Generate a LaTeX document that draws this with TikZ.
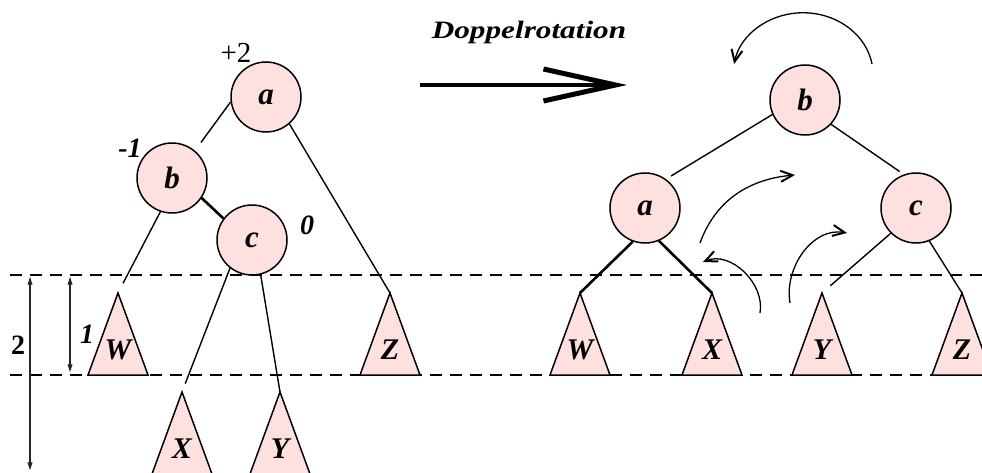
\documentclass[tikz,border=0pt]{standalone}
\usepackage{fontspec}
\setmainfont{Liberation Serif}
\usetikzlibrary{arrows.meta,positioning}
\definecolor{avlpink}{RGB}{255,224,224}

% subtree triangle: name, apex, label
\newcommand{\subtree}[3]{%
  \coordinate (#1) at #2;
  \filldraw[sub] (#1) -- ++(-30,-82) -- ++(60,0) -- cycle;
  \node[sublab] (#1lab) at ([yshift=-57pt]#1) {#3};
}

\begin{document}
\begin{tikzpicture}[x=1pt, y=1pt,
    avl/.style={circle, draw=black, line width=1.5pt, fill=avlpink,
                minimum size=70pt, inner sep=0pt,
                font=\fontsize{31}{33}\selectfont\bfseries\itshape},
    sub/.style={draw=black, line width=1.5pt, fill=avlpink, line join=miter},
    sublab/.style={inner sep=0pt, font=\fontsize{30}{32}\selectfont\bfseries\itshape},
    bal/.style={inner sep=0pt, font=\fontsize{28}{30}\selectfont\bfseries\itshape},
    edge/.style={line width=1.4pt},
    heavy/.style={line width=2.6pt},
    lev/.style={line width=1.2pt, dash pattern=on 12pt off 8pt},
    rot/.style={line width=1.3pt, -{Straight Barb[length=12pt,width=11pt,line width=2pt]}},
    hgt/.style={line width=1.1pt, black!85,
                {Straight Barb[length=6pt,width=4pt]}-{Straight Barb[length=6pt,width=4pt]}}]
  \useasboundingbox (0,0) rectangle (982,472);

  % level lines
  \coordinate (levTopL) at (10,197);
  \coordinate (levTopR) at (982,197);
  \coordinate (levBotL) at (10,97);
  \coordinate (levBotR) at (982,97);
  \draw[lev] (levTopL) -- (levTopR);
  \draw[lev] (levBotL) -- (levBotR);

  % height markers
  \coordinate (h2top) at (30,195);
  \coordinate (h2bot) at (30,2);
  \coordinate (h1top) at (70,195);
  \coordinate (h1bot) at (70,100);
  \draw[hgt] (h2top) -- (h2bot);
  \draw[hgt] (h1top) -- (h1bot);
  \node[inner sep=0pt, font=\fontsize{28}{30}\selectfont\bfseries] (h2lab) at (18,127) {2};
  \node[bal] (h1lab) at (87,138) {1};

  % tree before rotation
  \node[avl] (a) at (266,375) {a};
  \node[avl] (b) at (172,294) {b};
  \node[avl] (c) at (252,232) {c};
  \node[inner sep=0pt, font=\fontsize{29}{30}\selectfont] (balA) at (236,419) {+2};
  \node[bal] (balB) at (130,324) {-1};
  \node[bal] (balC) at (307,247) {0};

  \subtree{lW}{(118,179)}{W}
  \subtree{lZ}{(390,179)}{Z}
  \subtree{lX}{(182,80)}{X}
  \subtree{lY}{(280,80)}{Y}

  \draw[edge, shorten >=10pt] (a.188) -- (b.50);
  \draw[heavy] (b.-34) -- (c.143);
  \draw[edge] (a.-49) -- (lZ);
  \draw[edge, shorten >=11pt] (b.-109) -- (lW);
  \draw[edge, shorten >=9pt] (c.-128) -- (lX);
  \draw[edge] (c.-76) -- (lY);

  % double rotation arrow
  \node[inner sep=0pt, font=\fontsize{25}{27}\selectfont\bfseries\itshape] (title) at (529,440)
    {\scalebox{1.25}[1]{Doppelrotation}};
  \coordinate (goL) at (420,387);
  \coordinate (goR) at (627,387);
  \draw[line width=4.5pt, -{Straight Barb[length=72pt,width=32pt,line width=5pt]}] (goL) -- (goR);

  % tree after rotation
  \node[avl] (rb) at (805,372) {b};
  \node[avl] (ra) at (645,264) {a};
  \node[avl] (rc) at (916,264) {c};

  \subtree{rW}{(580,179)}{W}
  \subtree{rX}{(712,179)}{X}
  \subtree{rY}{(822,179)}{Y}
  \subtree{rZ}{(962,179)}{Z}

  \draw[edge, shorten >=6pt] (rb.204) -- (ra.54);
  \draw[edge, shorten >=5pt] (rb.-43) -- (rc.110);
  \draw[heavy] (ra.-110) -- (rW);
  \draw[heavy] (ra.-67) -- (rX);
  \draw[edge, shorten >=11pt] (rc.225) -- (rY);
  \draw[edge] (rc.-68) -- (rZ);

  % rotation hints
  \draw[rot] (872,408) arc[start angle=10, end angle=170, x radius=70, y radius=62];
  \draw[rot] (700,229) to[out=70, in=185] (795,297);
  \draw[rot] (760,159) to[out=80, in=23] (703,210);
  \draw[rot] (790,169) to[out=100, in=170] (847,239);
\end{tikzpicture}
\end{document}
